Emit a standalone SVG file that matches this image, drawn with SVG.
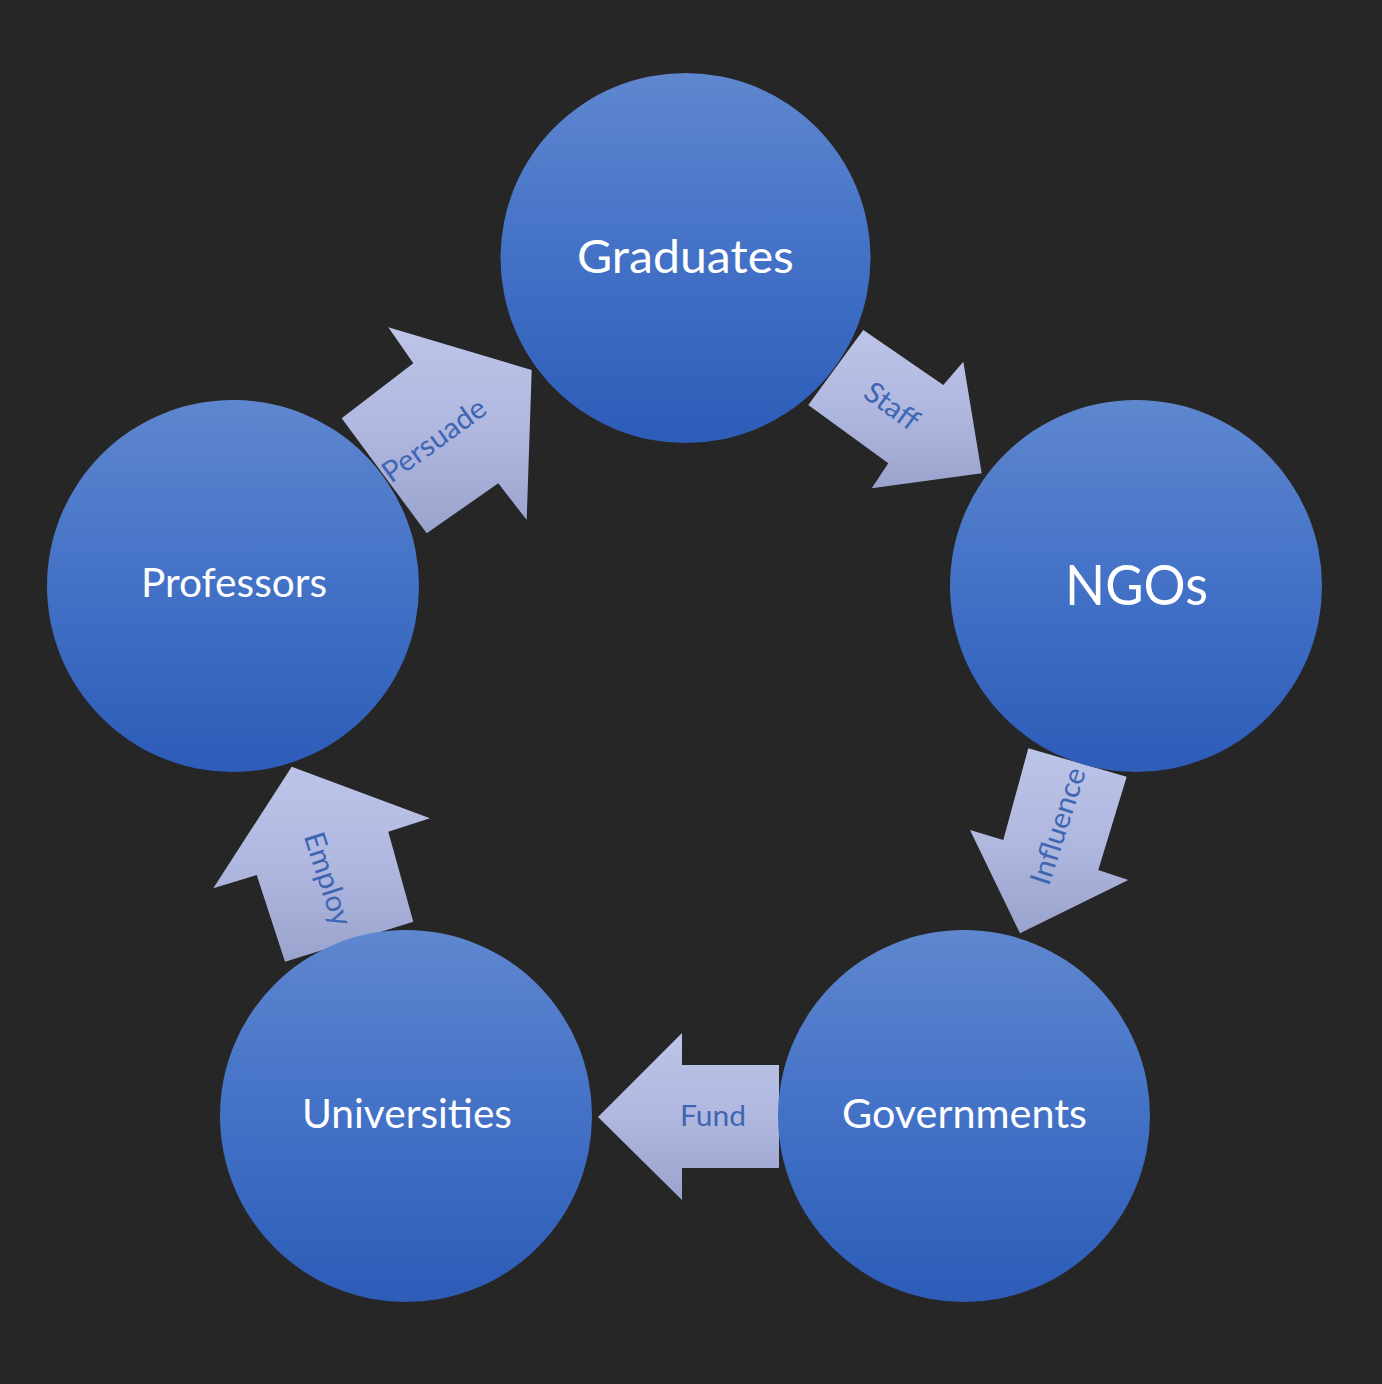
<svg xmlns="http://www.w3.org/2000/svg" width="1382" height="1384" viewBox="0 0 1382 1384">
<defs>
<linearGradient id="gCircle" x1="0" y1="0" x2="0" y2="1">
<stop offset="0" stop-color="#5f87cf"/>
<stop offset="0.5" stop-color="#4271c6"/>
<stop offset="1" stop-color="#2d5cb9"/>
</linearGradient>
<linearGradient id="gArrow" x1="0" y1="0" x2="0" y2="1">
<stop offset="0" stop-color="#bcc4e8"/>
<stop offset="0.5" stop-color="#b0b8e0"/>
<stop offset="1" stop-color="#9aa3cd"/>
</linearGradient>
<style>
.node{fill:url(#gCircle)}
.arrow{fill:url(#gArrow)}
.nl{font-family:Lato,"Open Sans","Liberation Sans",sans-serif;fill:#ffffff;text-anchor:middle}
.al{font-family:Lato,"Open Sans","Liberation Sans",sans-serif;fill:#3f66b3;font-size:29px;text-anchor:middle}
</style>
</defs>
<rect width="1382" height="1384" fill="#262626"/>
<g id="connectors">
<g id="persuade">
<polygon class="arrow" points="388.3,327.3 531.7,370 526.7,520 498.3,483.3 426.7,533.3 341.7,418.3 413.3,363.3"/>
<text class="al" transform="translate(434,440) rotate(-36)" y="10" textLength="121" lengthAdjust="spacingAndGlyphs">Persuade</text>
</g>
<g id="staff">
<polygon class="arrow" points="863.3,330 943.3,385 963.3,361.7 981.7,473.3 871.7,488.3 888.3,463.3 808.3,405"/>
<text class="al" transform="translate(892,406) rotate(36)" y="10" textLength="60" lengthAdjust="spacingAndGlyphs">Staff</text>
</g>
<g id="influence">
<polygon class="arrow" points="1126.7,776.7 1028.3,748.3 1003.3,840 970,830 1020,933.3 1128.3,880 1098.3,870"/>
<text class="al" transform="translate(1058,826) rotate(-72)" y="10" textLength="121" lengthAdjust="spacingAndGlyphs">Influence</text>
</g>
<g id="fund">
<polygon class="arrow" points="598,1117 682,1033 682,1065 779,1065 779,1168 682,1168 682,1200"/>
<text class="al" x="713" y="1126" textLength="66" lengthAdjust="spacingAndGlyphs">Fund</text>
</g>
<g id="employ">
<polygon class="arrow" points="291.7,766.7 430,818.3 388.3,831.7 413.3,921.7 285,961.7 256.7,875 213.3,888.3"/>
<text class="al" transform="translate(328,879) rotate(72)" y="10" textLength="97" lengthAdjust="spacingAndGlyphs">Employ</text>
</g>
</g>
<g id="graduates">
<circle class="node" cx="685.5" cy="258" r="185"/>
<text class="nl" x="685.5" y="273" font-size="47" textLength="217" lengthAdjust="spacingAndGlyphs">Graduates</text>
</g>
<g id="ngos">
<circle class="node" cx="1136" cy="586" r="186"/>
<text class="nl" x="1136.5" y="605" font-size="56" textLength="143" lengthAdjust="spacingAndGlyphs">NGOs</text>
</g>
<g id="governments">
<circle class="node" cx="964" cy="1116" r="186"/>
<text class="nl" x="964.5" y="1128" font-size="40" textLength="245" lengthAdjust="spacingAndGlyphs">Governments</text>
</g>
<g id="universities">
<circle class="node" cx="406" cy="1116" r="186"/>
<text class="nl" x="407" y="1128" font-size="40" textLength="210" lengthAdjust="spacingAndGlyphs">Universities</text>
</g>
<g id="professors">
<circle class="node" cx="233" cy="586" r="186"/>
<text class="nl" x="234" y="597" font-size="40" textLength="186" lengthAdjust="spacingAndGlyphs">Professors</text>
</g>
</svg>
